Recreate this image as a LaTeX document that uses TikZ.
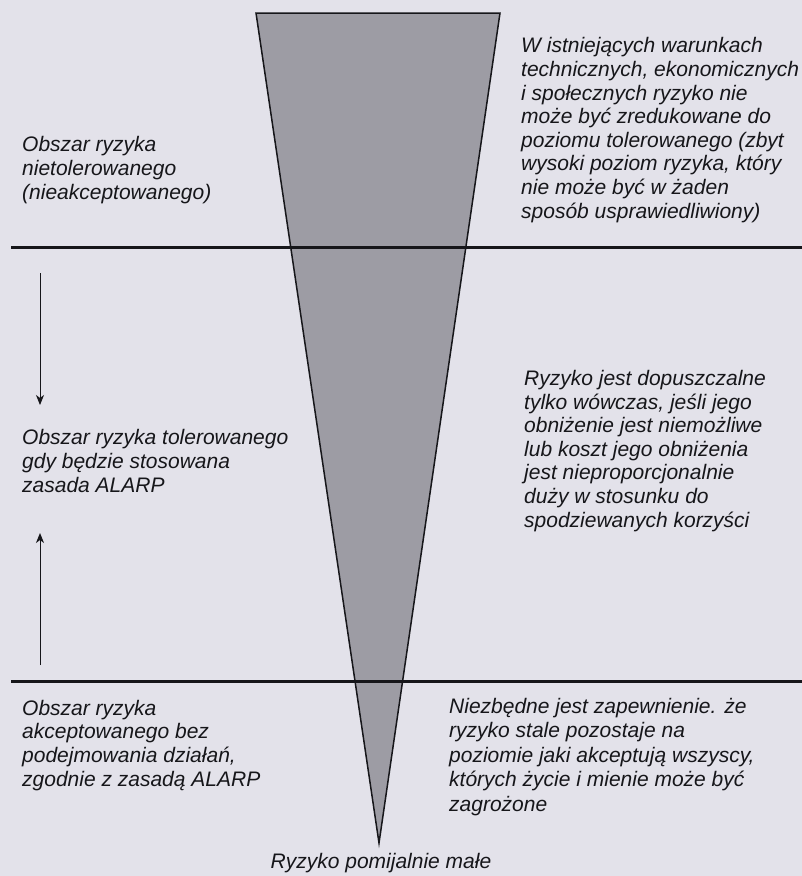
\documentclass[tikz,border=0pt]{standalone}
\usepackage{fontspec}
\setmainfont{Liberation Sans}
\usetikzlibrary{arrows.meta, positioning}
\definecolor{paper}{RGB}{227,226,234}
\definecolor{wedge}{RGB}{157,156,164}
\definecolor{ink}{RGB}{22,22,26}

\begin{document}
\begin{tikzpicture}[x=1pt, y=-1pt,
    every node/.style={font=\fontsize{21}{23.6}\selectfont\itshape, text=ink, inner sep=0pt, align=left},
    zoneline/.style={draw=ink, line width=3pt},
    zonearrow/.style={draw=ink, line width=1pt, -{Stealth[length=10pt, width=8pt, inset=3pt]}}]
  % page
  \fill[paper] (0,0) rectangle (802,876);
  \useasboundingbox (0,0) rectangle (802,876);

  % risk wedge
  \coordinate (wedgeL) at (256,13);
  \coordinate (wedgeR) at (500,13);
  \coordinate (apex) at (379,843);
  \fill[wedge] (wedgeL) -- (wedgeR) -- (apex) -- cycle;

  % zone borders
  \coordinate (upperL) at (11,247);
  \coordinate (upperR) at (802,247);
  \coordinate (lowerL) at (11,681);
  \coordinate (lowerR) at (802,681);
  \draw[zoneline] (upperL) -- (upperR);
  \draw[zoneline] (lowerL) -- (lowerR);
  \draw[draw=ink, line width=1.5pt, line join=miter] (wedgeL) -- (wedgeR) -- (apex) -- cycle;

  % ALARP arrows
  \coordinate (downS) at (40,273);
  \coordinate (downE) at (40,405);
  \coordinate (upS) at (40,665);
  \coordinate (upE) at (40,533);
  \draw[zonearrow] (downS) -- (downE);
  \draw[zonearrow] (upS) -- (upE);

  % left labels (placed at the baseline of the last line)
  \node[anchor=base west] (intolerable) at (22,199)
    {Obszar ryzyka\\nietolerowanego\\(nieakceptowanego)};
  \node[anchor=base west] (tolerable) at (22,492)
    {Obszar ryzyka tolerowanego\\gdy będzie stosowana\\zasada ALARP};
  \node[anchor=base west] (acceptable) at (22,786)
    {Obszar ryzyka\\akceptowanego bez\\podejmowania działań,\\zgodnie z zasadą ALARP};

  % right labels
  \node[anchor=base west] (intolNote) at (521,218)
    {W istniejących warunkach\\technicznych, ekonomicznych\\i społecznych ryzyko nie\\może być zredukowane do\\poziomu tolerowanego (zbyt\\wysoki poziom ryzyka, który\\nie może być w żaden\\sposób usprawiedliwiony)};
  \node[anchor=base west] (tolNote) at (524,527)
    {Ryzyko jest dopuszczalne\\tylko wówczas, jeśli jego\\obniżenie jest niemożliwe\\lub koszt jego obniżenia\\jest nieproporcjonalnie\\duży w stosunku do\\spodziewanych korzyści};
  \node[anchor=base west, font=\fontsize{21}{24.5}\selectfont\itshape] (accNote) at (449,811)
    {Niezbędne jest zapewnienie. że\\ryzyko stale pozostaje na\\poziomie jaki akceptują wszyscy,\\których życie i mienie może być\\zagrożone};

  % below the apex
  \node[anchor=base] (negligible) at (381,868) {Ryzyko pomijalnie małe};
\end{tikzpicture}
\end{document}
